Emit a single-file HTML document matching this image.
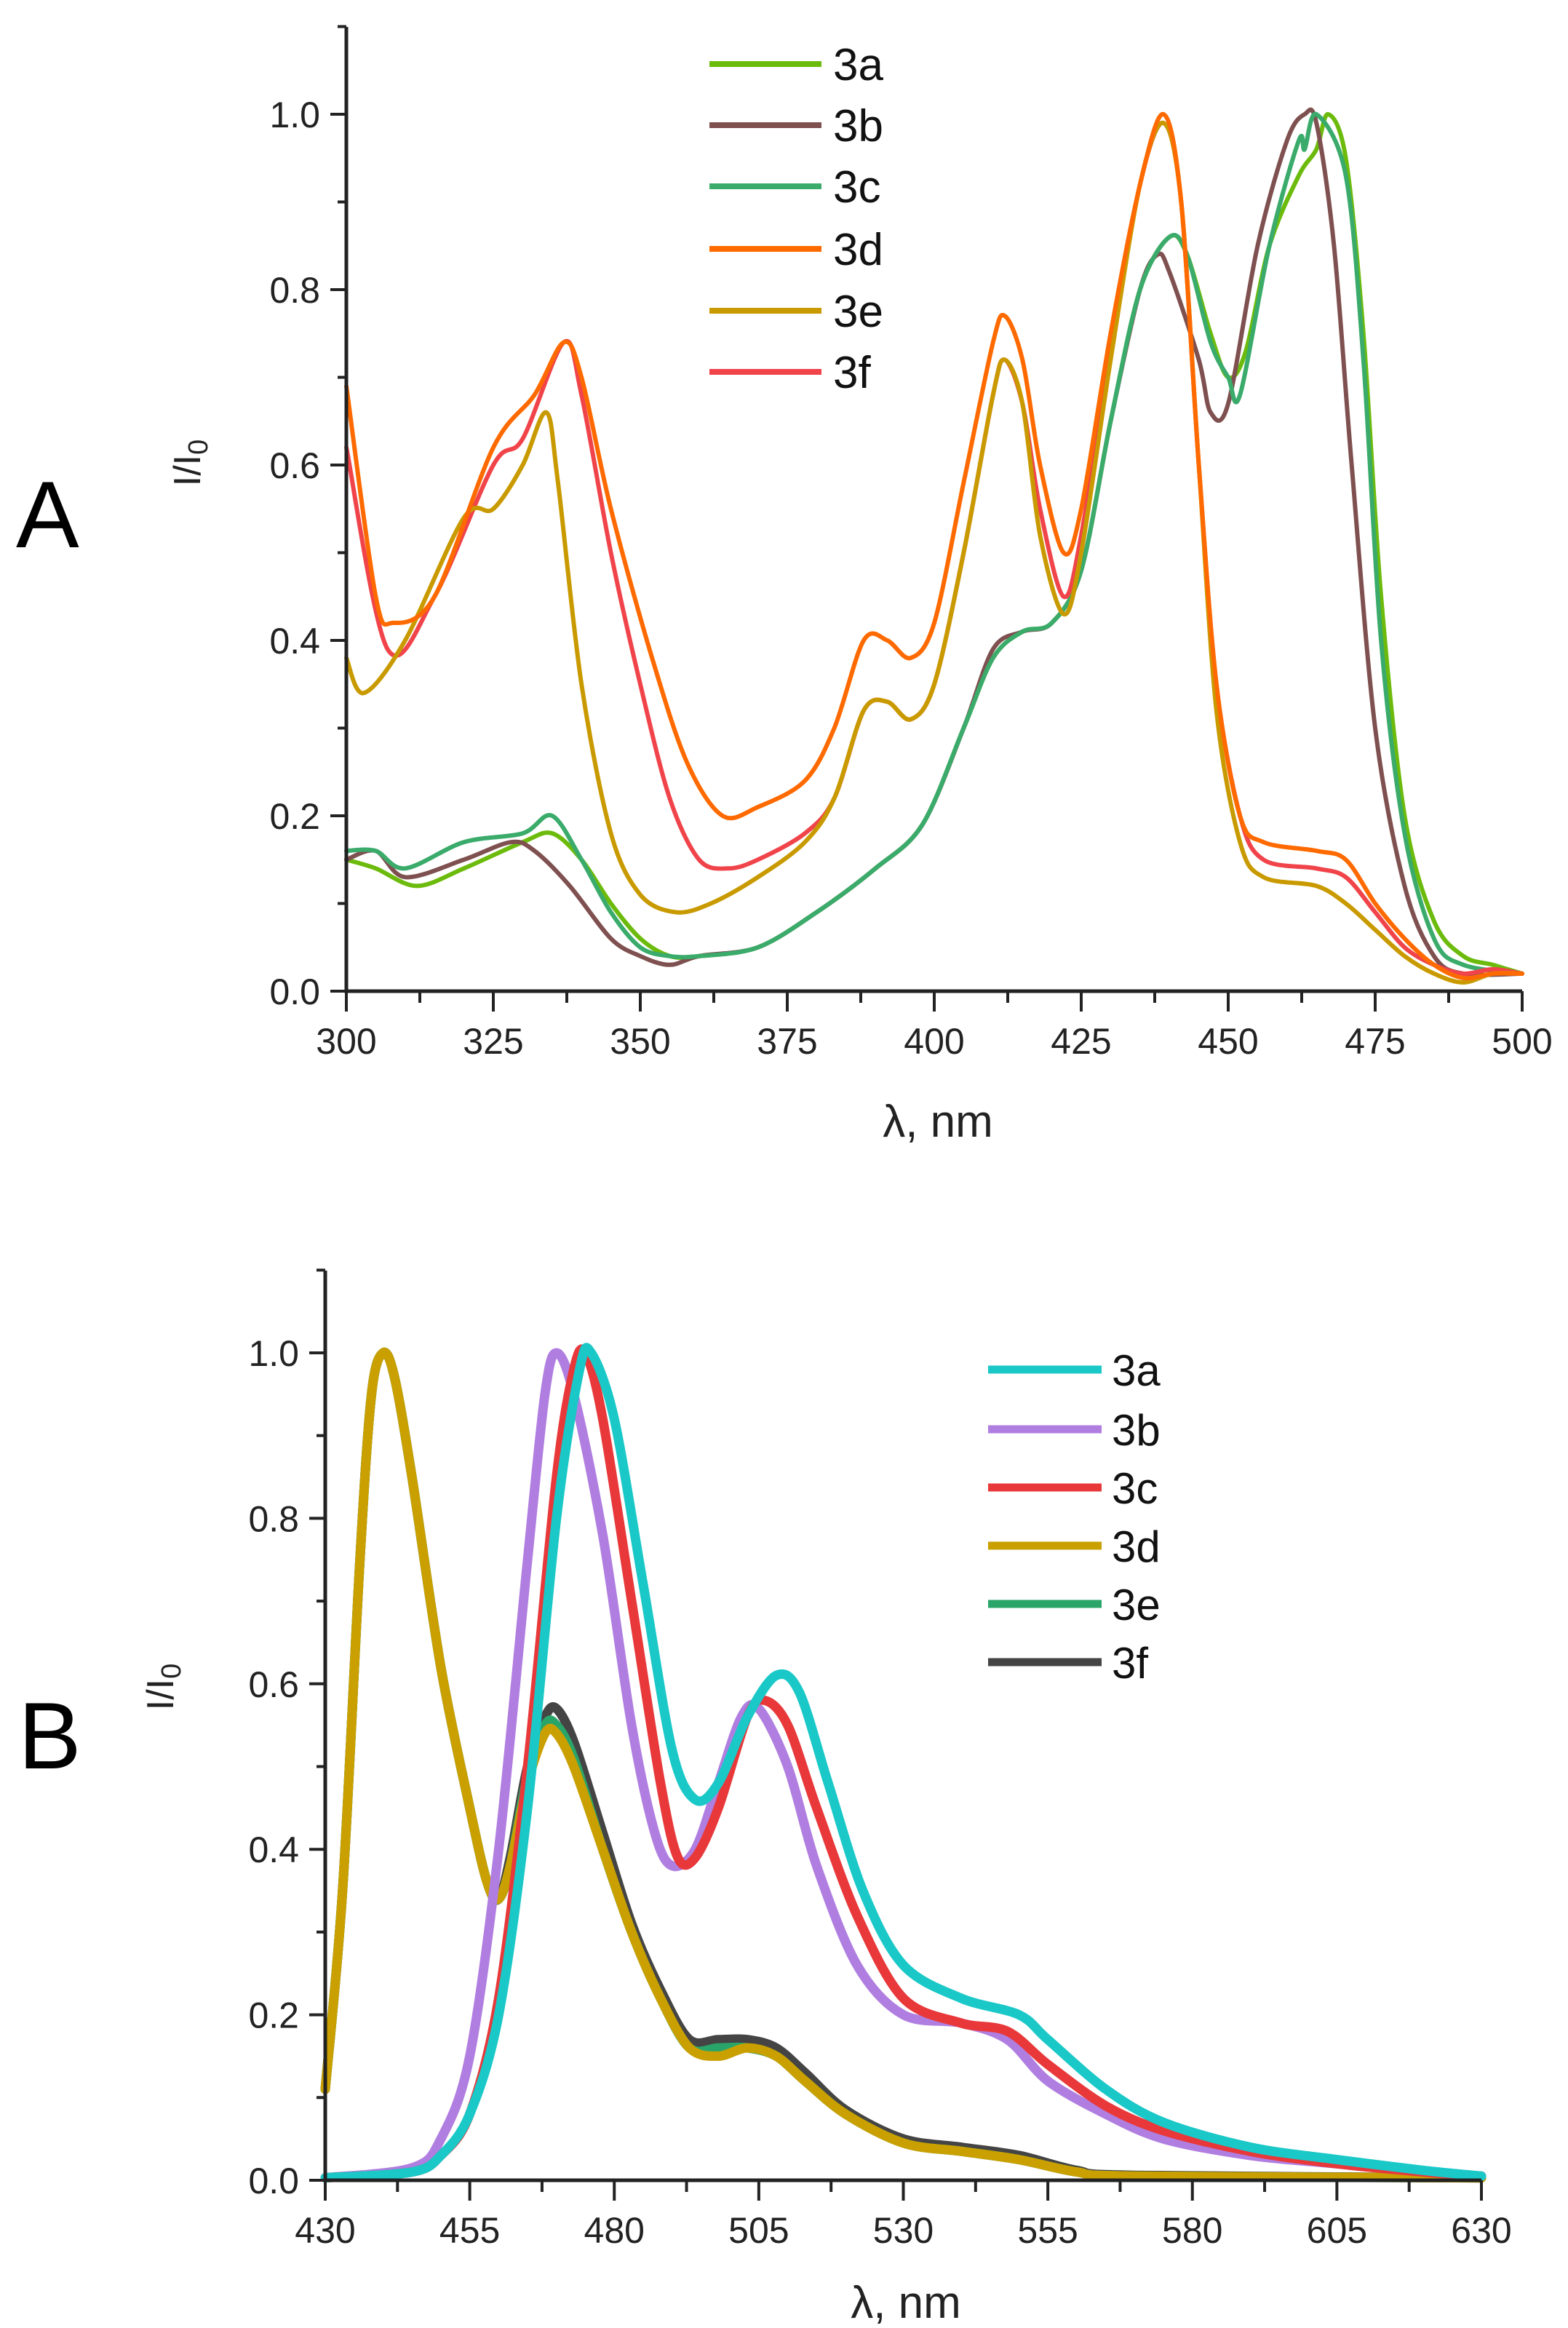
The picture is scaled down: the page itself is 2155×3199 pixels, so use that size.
<!DOCTYPE html>
<html><head><meta charset="utf-8"><style>
html,body{margin:0;padding:0;background:#fff;}
svg{display:block;font-family:"Liberation Sans",Arial,sans-serif;}
</style></head><body>
<svg id="root" width="2155" height="3199" viewBox="0 0 2155 3199" xmlns="http://www.w3.org/2000/svg">
<text x="22" y="752" font-size="130">A</text>
<text x="25" y="2430" font-size="130">B</text>
<g id="chartA"></g>
<g id="chartB"></g>
</svg>
<script>
const seriesNamesA = ["3a","3b","3c","3d","3e","3f"];
const colorsA = ["#6cbb0c","#7f5050","#3aab6b","#ff6a00","#c99a00","#f0444a"];
const a3a = [[300,.15],[305,.14],[312,.12],[320,.14],[330,.17],[335,.18],[340,.15],[345,.10],[350,.06],[355,.04],[360,.04],[370,.05],[380,.09],[390,.14],[398,.19],[405,.30],[410,.38],[415,.41],[420,.42],[425,.48],[430,.65],[435,.80],[440,.86],[443,.84],[447,.75],[450,.70],[453,.73],[457,.85],[462,.93],[465,.96],[467,1.0],[470,.95],[473,.75],[476,.45],[480,.20],[485,.08],[490,.04],[495,.03],[500,.02]];
const a3b = [[300,.15],[305,.16],[310,.13],[320,.15],[328,.17],[332,.16],[338,.12],[345,.06],[350,.04],[355,.03],[360,.04],[370,.05],[380,.09],[390,.14],[398,.19],[405,.30],[410,.39],[415,.41],[420,.42],[425,.48],[430,.65],[435,.80],[438,.84],[440,.82],[445,.72],[447,.66],[450,.67],[455,.85],[460,.97],[463,1.0],[465,.99],[468,.85],[471,.60],[475,.30],[480,.12],[485,.04],[490,.02],[500,.02]];
const a3c = [[300,.16],[305,.16],[310,.14],[320,.17],[330,.18],[335,.20],[340,.15],[345,.09],[350,.05],[355,.04],[360,.04],[370,.05],[380,.09],[390,.14],[398,.19],[405,.30],[410,.38],[415,.41],[420,.42],[425,.48],[430,.65],[435,.80],[440,.86],[443,.84],[447,.74],[450,.70],[452,.68],[457,.85],[462,.97],[463,.96],[465,1.0],[470,.93],[473,.72],[476,.40],[480,.18],[485,.06],[490,.03],[500,.02]];
const a3d = [[300,.69],[305,.45],[308,.42],[315,.45],[325,.62],[332,.68],[337,.74],[340,.70],[345,.55],[352,.38],[358,.26],[364,.20],[370,.21],[378,.24],[383,.30],[388,.40],[392,.40],[396,.38],[400,.42],[405,.58],[410,.74],[412,.77],[415,.72],[418,.60],[422,.50],[425,.55],[430,.75],[435,.92],[439,1.0],[442,.90],[445,.60],[448,.35],[452,.20],[456,.17],[465,.16],[470,.15],[475,.10],[480,.06],[485,.03],[490,.015],[495,.02],[500,.02]];
const a3e = [[300,.38],[303,.34],[310,.40],[320,.54],[325,.55],[330,.60],[334,.66],[336,.58],[340,.35],[345,.18],[350,.11],[356,.09],[362,.10],[370,.13],[378,.17],[383,.22],[388,.32],[392,.33],[396,.31],[400,.35],[405,.50],[410,.68],[412,.72],[415,.67],[418,.52],[422,.43],[425,.50],[430,.72],[435,.92],[439,.99],[442,.90],[445,.60],[448,.32],[452,.17],[456,.13],[465,.12],[470,.10],[475,.07],[480,.04],[485,.02],[490,.01],[495,.02],[500,.02]];
const a3f = [[300,.62],[307,.39],[315,.45],[325,.60],[330,.63],[337,.74],[340,.68],[345,.50],[350,.35],[355,.22],[360,.15],[365,.14],[370,.15],[378,.18],[383,.22],[388,.32],[392,.33],[396,.31],[400,.35],[405,.50],[410,.68],[412,.72],[415,.67],[418,.55],[422,.45],[425,.52],[430,.73],[435,.92],[439,.99],[442,.90],[445,.60],[448,.35],[452,.20],[456,.15],[465,.14],[470,.13],[475,.09],[480,.05],[485,.03],[490,.02],[495,.025],[500,.02]];
const xTicksA = [300,325,350,375,400,425,450,475,500];
const yTicks = [0.0,0.2,0.4,0.6,0.8,1.0];

const seriesNamesB = ["3a","3b","3c","3d","3e","3f"];
const colorsB = ["#1ac8c8","#b07ee0","#e8383a","#c9a000","#2aa56a","#444444"];
const b3a = [[430,.003],[445,.01],[450,.03],[455,.08],[460,.20],[465,.45],[470,.80],[474,.98],[476,1.0],[480,.92],[485,.72],[490,.52],[494,.46],[498,.48],[503,.56],[508,.61],[512,.59],[517,.48],[523,.35],[530,.26],[540,.22],[550,.20],[555,.17],[565,.11],[575,.07],[590,.04],[605,.025],[620,.012],[630,.005]];
const b3b = [[430,.003],[445,.015],[450,.05],[455,.15],[460,.40],[465,.75],[468,.95],[470,1.0],[473,.95],[478,.78],[483,.55],[487,.42],[490,.38],[494,.40],[498,.48],[502,.56],[505,.57],[510,.50],[515,.38],[522,.26],[530,.20],[540,.19],[548,.17],[555,.12],[565,.08],[575,.05],[590,.03],[605,.02],[630,.005]];
const b3c = [[430,.003],[445,.01],[450,.03],[455,.08],[460,.22],[465,.50],[470,.85],[473,.98],[475,1.0],[478,.92],[483,.70],[488,.48],[491,.39],[494,.39],[498,.45],[503,.56],[506,.58],[510,.55],[515,.45],[522,.32],[530,.22],[540,.19],[548,.18],[555,.14],[565,.09],[575,.06],[590,.035],[605,.02],[620,.01],[630,.005]];
const b3d = [[430,.11],[433,.35],[436,.75],[438,.95],[440,1.0],[442,.97],[445,.85],[450,.62],[455,.45],[458,.36],[460,.34],[462,.38],[465,.48],[468,.54],[470,.54],[473,.50],[478,.40],[483,.30],[488,.22],[493,.16],[498,.15],[503,.16],[508,.15],[513,.12],[520,.08],[530,.045],[540,.035],[550,.025],[560,.01],[570,.005],[630,.003]];
const b3e = [[430,.11],[433,.35],[436,.75],[438,.95],[440,1.0],[442,.97],[445,.85],[450,.62],[455,.45],[458,.36],[460,.34],[462,.38],[465,.49],[468,.55],[470,.55],[473,.51],[478,.40],[483,.30],[488,.22],[493,.16],[498,.16],[503,.16],[508,.15],[513,.12],[520,.08],[530,.045],[540,.035],[550,.025],[560,.01],[570,.005],[630,.003]];
const b3f = [[430,.11],[433,.35],[436,.75],[438,.95],[440,1.0],[442,.97],[445,.85],[450,.62],[455,.45],[458,.36],[460,.34],[462,.39],[465,.50],[468,.56],[470,.57],[473,.53],[478,.42],[483,.31],[488,.23],[493,.17],[498,.17],[503,.17],[508,.16],[513,.13],[520,.085],[530,.05],[540,.04],[550,.03],[560,.012],[570,.006],[630,.003]];
const xTicksB = [430,455,480,505,530,555,580,605,630];

const NS="http://www.w3.org/2000/svg";
function mk(parent,tag,attrs){const e=document.createElementNS(NS,tag);for(const k in attrs)e.setAttribute(k,attrs[k]);parent.appendChild(e);return e;}
function smooth(pts){
  let d="M"+pts[0][0].toFixed(1)+" "+pts[0][1].toFixed(1);
  for(let i=0;i<pts.length-1;i++){
    const p0=pts[Math.max(0,i-1)],p1=pts[i],p2=pts[i+1],p3=pts[Math.min(pts.length-1,i+2)];
    const t=0.16;
    const c1x=p1[0]+(p2[0]-p0[0])*t,c1y=p1[1]+(p2[1]-p0[1])*t;
    const c2x=p2[0]-(p3[0]-p1[0])*t,c2y=p2[1]-(p3[1]-p1[1])*t;
    d+=` C${c1x.toFixed(1)} ${c1y.toFixed(1)} ${c2x.toFixed(1)} ${c2y.toFixed(1)} ${p2[0].toFixed(1)} ${p2[1].toFixed(1)}`;
  }
  return d;
}

function drawChart(g,cfg){
  const sx=v=>cfg.x0+(v-cfg.xmin)/(cfg.xmax-cfg.xmin)*(cfg.x1-cfg.x0);
  const sy=v=>cfg.y0-(v)/(1.0)*(cfg.y0-cfg.y1);
  cfg.series.forEach((s,i)=>{
    const d=smooth(s.map(p=>[sx(p[0]),sy(p[1])]));
    const p=mk(g,"path",{d:d,fill:"none",stroke:cfg.colors[i],"stroke-width":cfg.lw,"stroke-linejoin":"round","stroke-linecap":"round"});
    
    
  });
  const top=cfg.top;
  const ax=mk(g,"path",{d:`M${cfg.x0} ${top} L${cfg.x0} ${cfg.y0} L${sx(cfg.xmax)} ${cfg.y0}`,fill:"none",stroke:"#222","stroke-width":5});
  
  
  for(let v=0;v<=1.1001;v+=0.1){
    const major=Math.round(v*10)%2===0;
    const y=sy(v);
    mk(g,"line",{x1:cfg.x0-(major?22:12),x2:cfg.x0,y1:y,y2:y,stroke:"#222","stroke-width":4});
  }
  yTicks.forEach(v=>{
    const t=mk(g,"text",{x:cfg.x0-36,y:sy(v)+18,"font-size":50,"text-anchor":"end",fill:"#222"});
    t.textContent=v.toFixed(1);
    
    
  });
  for(let v=cfg.xmin;v<=cfg.xmax+0.01;v+=12.5){
    const major=Math.abs(((v-cfg.xmin)/25)-Math.round((v-cfg.xmin)/25))<0.01;
    mk(g,"line",{x1:sx(v),x2:sx(v),y1:cfg.y0,y2:cfg.y0+(major?28:16),stroke:"#222","stroke-width":4});
  }
  cfg.xticks.forEach(v=>{
    const t=mk(g,"text",{x:sx(v),y:cfg.y0+86,"font-size":50,"text-anchor":"middle",fill:"#222"});
    t.textContent=v;
    
    
  });
  const xt=mk(g,"text",{x:cfg.xtx,y:cfg.xty,"font-size":62,"text-anchor":"middle",fill:"#222"});
  xt.textContent="λ, nm";
  
  
  const yt=mk(g,"text",{x:0,y:0,"font-size":52,"text-anchor":"middle",fill:"#222",transform:`translate(${cfg.ytx},${cfg.yty}) rotate(-90)`});
  yt.innerHTML='I/I<tspan font-size="38" dy="10">0</tspan>';
  
  
}
drawChart(document.getElementById('chartA'),{x0:476,x1:2092,xmin:300,xmax:500,y0:1362,y1:157,top:37,lw:6,
  series:[a3a,a3b,a3c,a3f,a3e,a3d],colors:[colorsA[0],colorsA[1],colorsA[2],colorsA[5],colorsA[4],colorsA[3]],names:["3a","3b","3c","3f","3e","3d"],xticks:xTicksA,
  xtx:1289,xty:1562,ytx:275,yty:636});
drawChart(document.getElementById('chartB'),{x0:447,x1:2036,xmin:430,xmax:630,y0:2996,y1:1859,top:1746,lw:13,
  series:[b3f,b3e,b3d,b3b,b3c,b3a],colors:[colorsB[5],colorsB[4],colorsB[3],colorsB[1],colorsB[2],colorsB[0]],names:["3f","3e","3d","3b","3c","3a"],xticks:xTicksB,
  xtx:1245,xty:3185,ytx:238,yty:2318});

(function(){
  const g=document.getElementById('chartA');
  const ys=[88,172,256,342,427,511];
  seriesNamesA.forEach((n,i)=>{
    const l=mk(g,"line",{x1:975,x2:1129,y1:ys[i],y2:ys[i],stroke:colorsA[i],"stroke-width":8});
    
    
    const t=mk(g,"text",{x:1145,y:ys[i]+22,"font-size":62,fill:"#111"});
    t.textContent=n;
    
    
  });
})();
(function(){
  const g=document.getElementById('chartB');
  const ys=[1882,1964,2044,2124,2204,2284];
  seriesNamesB.forEach((n,i)=>{
    const l=mk(g,"line",{x1:1358,x2:1514,y1:ys[i],y2:ys[i],stroke:colorsB[i],"stroke-width":11});
    
    
    const t=mk(g,"text",{x:1528,y:ys[i]+22,"font-size":60,fill:"#111"});
    t.textContent=n;
    
    
  });
})();
</script>
</body></html>
